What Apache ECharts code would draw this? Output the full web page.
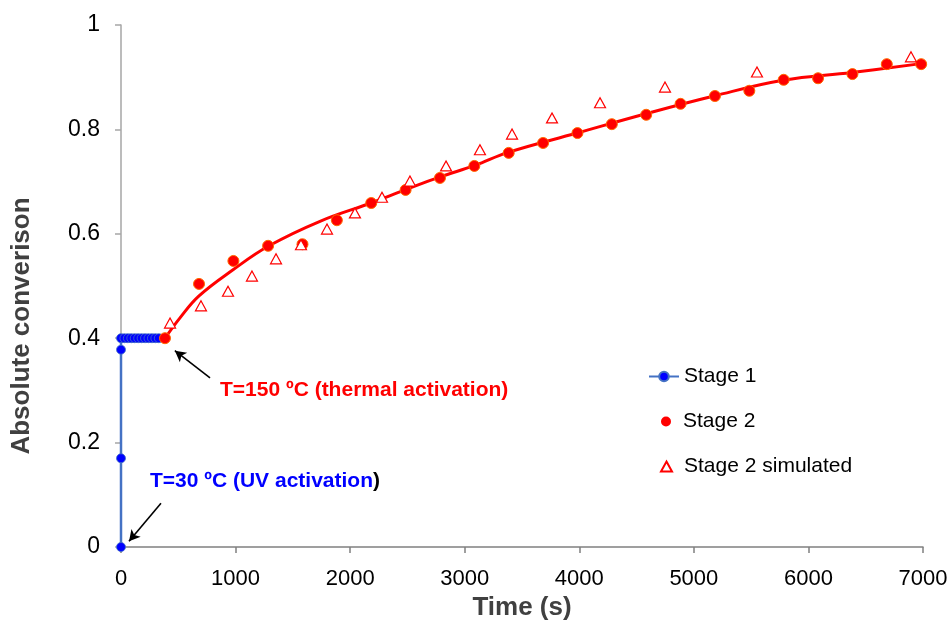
<!DOCTYPE html>
<html>
<head>
<meta charset="utf-8">
<script src="https://cdn.jsdelivr.net/npm/echarts@6/dist/echarts.min.js"></script>
<style>html,body{margin:0;padding:0;background:#fff}#c{width:952px;height:622px}</style>
</head>
<body>
<div id="c"></div>
<script>
// Stage 1 (UV activation)
var stage1Time = [0, 0, 0, 0, 30, 60, 90, 120, 150, 180, 210, 240, 270, 300, 330];
var stage1Conv = [0, 0.17, 0.378, 0.4, 0.4, 0.4, 0.4, 0.4, 0.4, 0.4, 0.4, 0.4, 0.4, 0.4, 0.4];

// Stage 2 measured
var stage2Time = [384, 681, 981, 1284, 1584, 1884, 2184, 2484, 2784, 3084, 3384, 3684, 3984, 4284, 4584, 4884, 5184, 5484, 5784, 6084, 6384, 6684, 6984];
var stage2Conv = [0.400, 0.504, 0.548, 0.577, 0.580, 0.626, 0.659, 0.684, 0.707, 0.730, 0.755, 0.774, 0.793, 0.810, 0.828, 0.849, 0.864, 0.874, 0.895, 0.898, 0.906, 0.925, 0.925];

// Stage 2 fitted curve
var fitTime = [384, 515, 681, 978, 1292, 1737, 2182, 2479, 2784, 3090, 3378, 3980, 4582, 5176, 5778, 6380, 6983];
var fitConv = [0.400, 0.439, 0.481, 0.531, 0.577, 0.624, 0.659, 0.684, 0.709, 0.731, 0.756, 0.793, 0.830, 0.864, 0.894, 0.909, 0.926];

// Stage 2 simulated
var simTime = [428, 698, 934, 1143, 1353, 1571, 1798, 2042, 2278, 2522, 2837, 3133, 3413, 3762, 4181, 4748, 5551, 6895];
var simConv = [0.429, 0.462, 0.490, 0.519, 0.552, 0.579, 0.609, 0.640, 0.670, 0.701, 0.730, 0.761, 0.791, 0.822, 0.851, 0.881, 0.910, 0.939];

var xTicks = {min: 0, max: 7000, interval: 1000};
var yTicks = {min: 0, max: 1, interval: 0.2};

function zip(a, b) { return a.map(function (v, i) { return [v, b[i]]; }); }

var FONT = '"Liberation Sans", Arial, sans-serif';
var chart = echarts.init(document.getElementById('c'), null, {renderer: 'canvas'});
chart.setOption({
  animation: false,
  backgroundColor: '#fff',
  grid: {left: 121, right: 29, top: 25, bottom: 75, containLabel: false, outerBoundsMode: 'none'},
  legend: [
    {
      orient: 'vertical', left: 643, top: 361, itemWidth: 30, itemHeight: 12,
      data: ['Stage 1'],
      textStyle: {fontFamily: FONT, fontSize: 21, color: '#000'}
    },
    {
      orient: 'vertical', left: 656, top: 406, itemWidth: 10, itemHeight: 10,
      data: [{name: 'Stage 2', itemStyle: {borderWidth: 0}}],
      textStyle: {fontFamily: FONT, fontSize: 21, color: '#000', padding: [0, 0, 0, 7]}
    },
    {
      orient: 'vertical', left: 655, top: 451, itemWidth: 11, itemHeight: 10,
      data: ['Stage 2 simulated'],
      textStyle: {fontFamily: FONT, fontSize: 21, color: '#000', padding: [0, 0, 0, 7]}
    }
  ],
  xAxis: {
    type: 'value', min: xTicks.min, max: xTicks.max, interval: xTicks.interval,
    name: 'Time (s)', nameLocation: 'middle', nameGap: 46,
    nameTextStyle: {fontFamily: FONT, fontSize: 26, fontWeight: 'bold', color: '#404040'},
    axisLine: {show: true, onZero: false, lineStyle: {color: '#808080', width: 1.5}},
    axisTick: {show: true, inside: false, length: 6, lineStyle: {color: '#808080', width: 1.5}},
    axisLabel: {fontFamily: FONT, fontSize: 22, color: '#000', margin: 21,
      formatter: function (v) { return String(v); }},
    splitLine: {show: false}
  },
  yAxis: {
    type: 'value', min: yTicks.min, max: yTicks.max, interval: yTicks.interval,
    axisLine: {show: true, lineStyle: {color: '#A6A6A6', width: 1.5}},
    axisTick: {show: true, inside: false, length: 6, lineStyle: {color: '#A6A6A6', width: 1.5}},
    axisLabel: {fontFamily: FONT, fontSize: 23, color: '#000', margin: 21},
    splitLine: {show: false}
  },
  series: [
    {
      name: 'Stage 2 fit', type: 'line', data: zip(fitTime, fitConv),
      smooth: 0.4, showSymbol: false, symbol: 'none', z: 2,
      lineStyle: {color: '#FF0000', width: 3}
    },
    {
      name: 'Stage 1', type: 'line', data: zip(stage1Time, stage1Conv),
      symbol: 'circle', symbolSize: 9, z: 3,
      lineStyle: {color: '#4472C4', width: 2.5},
      itemStyle: {color: '#0000FF', borderColor: '#4472C4', borderWidth: 0.8}
    },
    {
      name: 'Stage 2', type: 'scatter', data: zip(stage2Time, stage2Conv),
      symbol: 'circle', symbolSize: 11, z: 4,
      itemStyle: {color: '#FF0000', borderColor: '#FF6A00', borderWidth: 1, opacity: 1}
    },
    {
      name: 'Stage 2 simulated', type: 'scatter', data: zip(simTime, simConv),
      symbol: 'triangle', symbolSize: [11, 10], z: 4,
      itemStyle: {color: '#FFFFFF', borderColor: '#FF0000', borderWidth: 1.2, opacity: 1},
      markLine: {
        silent: true, symbol: ['none', 'arrow'], symbolSize: [9, 11],
        lineStyle: {color: '#000', width: 1.6, type: 'solid'},
        label: {show: false},
        data: [
          [{coord: [777, 0.324]}, {coord: [470, 0.376]}],
          [{coord: [349, 0.084]}, {coord: [70, 0.011]}]
        ]
      }
    }
  ],
  graphic: [
    {
      type: 'text', x: 22, y: 326, rotation: Math.PI / 2,
      style: {text: 'Absolute converison', font: 'bold 26px "Liberation Sans", Arial, sans-serif',
        fill: '#404040', textAlign: 'center', textVerticalAlign: 'middle'}
    },
    {
      type: 'text', left: 220, top: 380,
      style: {text: 'T=150 ºC (thermal activation)', font: 'bold 21px "Liberation Sans", Arial, sans-serif', fill: '#FF0000'}
    },
    {
      type: 'text', left: 150, top: 471,
      style: {
        text: '{b|T=30 ºC (UV activation}{k|)}',
        rich: {
          b: {font: 'bold 21px "Liberation Sans", Arial, sans-serif', fill: '#0000FF', color: '#0000FF'},
          k: {font: 'bold 21px "Liberation Sans", Arial, sans-serif', fill: '#000', color: '#000'}
        }
      }
    }
  ]
});
</script>
</body>
</html>
